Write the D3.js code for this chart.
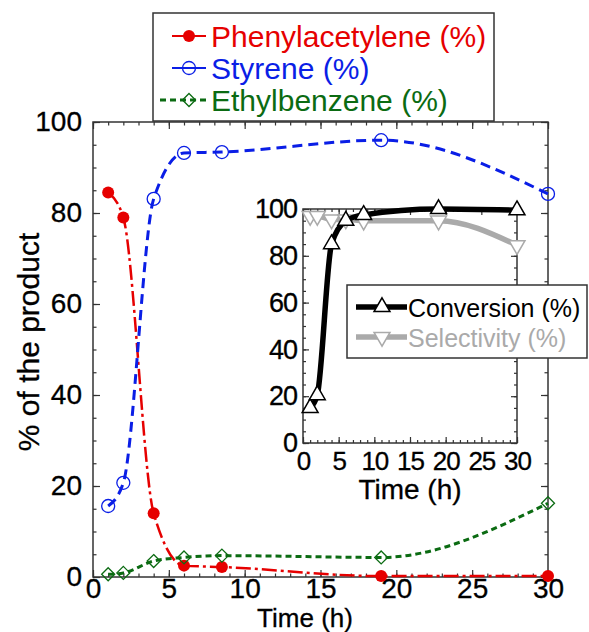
<!DOCTYPE html>
<html>
<head>
<meta charset="utf-8">
<script src="https://cdn.jsdelivr.net/npm/d3@7"></script>
<style>
    body { margin: 0; background: #fff; }
    svg { display: block; font-family: "Liberation Sans", Arial, sans-serif; }
    .heavy { stroke: #000; stroke-width: 0.3; }
</style>
</head>
<body>
<svg id="chart" width="589" height="632"></svg>
<script>
// Reaction time (h) and product distribution (%)
const hours = [1, 2, 4, 6, 8.5, 19, 30];
const phenylacetylene = [84.5, 79, 14, 2.5, 2.2, 0.2, 0.2];
const styrene = [15.6, 20.7, 83.1, 93.2, 93.4, 96, 84.2];
const ethylbenzene = [0.6, 0.9, 3.5, 4.3, 4.7, 4.3, 16.2];

// Inset: conversion and selectivity (%)
const conversion = [15, 20.5, 85, 95, 97.5, 100, 99.5];
const selectivity = [97, 97, 95.5, 95.5, 95, 95, 84.5];

const xTicks = [0, 5, 10, 15, 20, 25, 30];
const yTicks = [0, 20, 40, 60, 80, 100];

const colors = {
    red: '#e60000',
    blue: '#0a1ee6',
    green: '#0b6b12',
    frame: '#333',
    grey: '#aaaaaa',
};

const svg = d3.select('#chart');

const x = d3.scaleLinear().domain([0, 30]).range([93, 548]);
const y = d3.scaleLinear().domain([0, 100]).range([577, 122]);

const ix = d3.scaleLinear().domain([0, 30]).range([303, 517]);
const iy = d3.scaleLinear().domain([0, 100]).range([443, 209]);

// draws a boxed frame with inward ticks on all sides
function drawFrame(sx, sy, opt) {
    const [x0, x1] = sx.range();
    const [y0, y1] = sy.range();
    const g = svg.append('g');

    const minorX = d3.range(0, 30.01, 1);
    const minorY = d3.range(0, 100.01, opt.minorY);

    const sides = [
        { axis: d3.axisBottom(sx), at: `translate(0,${y0})`, minor: minorX },
        { axis: d3.axisTop(sx), at: `translate(0,${y1})`, minor: minorX },
        { axis: d3.axisLeft(sy), at: `translate(${x0},0)`, minor: minorY },
        { axis: d3.axisRight(sy), at: `translate(${x1},0)`, minor: minorY },
    ];

    // minor ticks
    sides.forEach(s => {
        const m = g.append('g').attr('transform', s.at)
            .call(s.axis.tickValues(s.minor).tickSizeInner(-opt.minorLen).tickSizeOuter(0).tickFormat(''));
        m.select('.domain').remove();
        m.selectAll('line').attr('stroke', colors.frame).attr('stroke-width', 1.2);
    });

    const majors = [
        { axis: d3.axisBottom(sx), at: `translate(0,${y0})`, vals: xTicks, pad: opt.padX, labels: true, fs: opt.fontX },
        { axis: d3.axisTop(sx), at: `translate(0,${y1})`, vals: xTicks, labels: false },
        { axis: d3.axisLeft(sy), at: `translate(${x0},0)`, vals: yTicks, pad: opt.padY, labels: true, fs: opt.fontY },
        { axis: d3.axisRight(sy), at: `translate(${x1},0)`, vals: yTicks, labels: false },
    ];

    majors.forEach(s => {
        const a = s.axis.tickValues(s.vals).tickSizeInner(-opt.majorLen).tickSizeOuter(0)
            .tickPadding(s.pad || 0);
        if (!s.labels) a.tickFormat('');
        const m = g.append('g').attr('transform', s.at).call(a);
        m.select('.domain').remove();
        m.selectAll('line').attr('stroke', colors.frame).attr('stroke-width', 1.2);
        m.selectAll('text')
            .attr('class', 'heavy')
            .attr('font-size', s.fs)
            .attr('letter-spacing', opt.spacing || 0)
            .attr('font-family', '"Liberation Sans", Arial, sans-serif')
            .attr('fill', '#000');
    });

    g.append('rect')
        .attr('x', x0).attr('y', y1)
        .attr('width', x1 - x0).attr('height', y0 - y1)
        .attr('fill', 'none')
        .attr('stroke', colors.frame)
        .attr('stroke-width', 1.5);

    return g;
}

drawFrame(x, y, { minorY: 5, minorLen: 3.5, majorLen: 7, padX: 1, padY: 11, fontX: 28, fontY: 28 });

// axis titles
svg.append('text')
    .attr('class', 'heavy')
    .attr('x', 305).attr('y', 627)
    .attr('text-anchor', 'middle')
    .attr('font-size', 26)
    .text('Time (h)');

svg.append('text')
    .attr('class', 'heavy')
    .attr('transform', 'translate(39,342) rotate(-90)')
    .attr('text-anchor', 'middle')
    .attr('font-size', 30)
    .text('% of the product');

// main series
const series = [
    { name: 'Phenylacetylene (%)', values: phenylacetylene, color: colors.red, dash: '15,4,3,4', width: 2.5, marker: 'dot' },
    { name: 'Styrene (%)', values: styrene, color: colors.blue, dash: '10,6', width: 3, marker: 'circle' },
    { name: 'Ethylbenzene (%)', values: ethylbenzene, color: colors.green, dash: '6,4', width: 3, marker: 'diamond' },
];

const line = d3.line()
    .x(d => x(d[0]))
    .y(d => y(d[1]))
    .curve(d3.curveMonotoneX);

const diamond = r => `M0,${-r}L${r},0L0,${r}L${-r},0Z`;

function drawMarker(sel, type, color) {
    if (type === 'dot') {
        sel.append('circle').attr('r', 6).attr('fill', color);
    } else if (type === 'circle') {
        sel.append('circle').attr('r', 6.5).attr('fill', 'none')
            .attr('stroke', color).attr('stroke-width', 1.3);
    } else {
        sel.append('path').attr('d', diamond(6.5)).attr('fill', 'none')
            .attr('stroke', color).attr('stroke-width', 1.3);
    }
}

series.forEach(s => {
    const pts = hours.map((h, i) => [h, s.values[i]]);
    svg.append('path')
        .datum(pts)
        .attr('d', line)
        .attr('fill', 'none')
        .attr('stroke', s.color)
        .attr('stroke-width', s.width)
        .attr('stroke-dasharray', s.dash);

    svg.append('g').selectAll('g')
        .data(pts)
        .enter()
        .append('g')
        .attr('transform', d => `translate(${x(d[0])},${y(d[1])})`)
        .each(function () { drawMarker(d3.select(this), s.marker, s.color); });
});

// main legend
const legend = svg.append('g');
legend.append('rect')
    .attr('x', 153).attr('y', 13)
    .attr('width', 341).attr('height', 108)
    .attr('fill', '#fff')
    .attr('stroke', colors.frame)
    .attr('stroke-width', 1.5);

series.forEach((s, i) => {
    const cy = 36 + i * 32;
    const row = legend.append('g');
    row.append('line')
        .attr('x1', i === 2 ? 160 : 172).attr('x2', 206)
        .attr('y1', cy).attr('y2', cy)
        .attr('stroke', s.color)
        .attr('stroke-width', i === 2 ? 3 : 2)
        .attr('stroke-dasharray', i === 2 ? '6,4' : null);
    drawMarker(row.append('g').attr('transform', `translate(189,${cy})`), s.marker, s.color);
    row.append('text')
        .attr('x', 211).attr('y', cy + 11)
        .attr('font-size', 30)
        .attr('fill', s.color)
        .text(s.name);
});

// inset
svg.append('rect')
    .attr('x', 303).attr('y', 209)
    .attr('width', 214).attr('height', 234)
    .attr('fill', '#fff');

drawFrame(ix, iy, { minorY: 5, minorLen: 3, majorLen: 6, padX: 9, padY: 6, fontX: 26, fontY: 27, spacing: -1 });

svg.append('text')
    .attr('class', 'heavy')
    .attr('x', 410).attr('y', 499)
    .attr('text-anchor', 'middle')
    .attr('font-size', 28)
    .text('Time (h)');

const insetLine = d3.line()
    .x(d => ix(d[0]))
    .y(d => iy(d[1]))
    .curve(d3.curveMonotoneX);

const tri = d3.symbol().type(d3.symbolTriangle).size(110);

const insetSeries = [
    { name: 'Selectivity (%)', values: selectivity, color: colors.grey, rot: 180 },
    { name: 'Conversion (%)', values: conversion, color: '#000', rot: 0 },
];

insetSeries.forEach(s => {
    const pts = hours.map((h, i) => [h, s.values[i]]);
    svg.append('path')
        .datum(pts)
        .attr('d', insetLine)
        .attr('fill', 'none')
        .attr('stroke', s.color)
        .attr('stroke-width', 5.5);

    svg.append('g').selectAll('path')
        .data(pts)
        .enter()
        .append('path')
        .attr('d', tri)
        .attr('transform', d => `translate(${ix(d[0])},${iy(d[1])}) rotate(${s.rot})`)
        .attr('fill', '#fff')
        .attr('stroke', s.color)
        .attr('stroke-width', 1.5);
});

// inset legend
const iLegend = svg.append('g');
iLegend.append('rect')
    .attr('x', 347).attr('y', 285)
    .attr('width', 240).attr('height', 73)
    .attr('fill', '#fff')
    .attr('stroke', colors.frame)
    .attr('stroke-width', 1.5);

insetSeries.slice().reverse().forEach((s, i) => {
    const cy = 307 + i * 30;
    iLegend.append('line')
        .attr('x1', 356).attr('x2', 407)
        .attr('y1', cy).attr('y2', cy)
        .attr('stroke', s.color)
        .attr('stroke-width', 5.5);
    iLegend.append('path')
        .attr('d', tri)
        .attr('transform', `translate(382,${cy}) rotate(${s.rot})`)
        .attr('fill', '#fff')
        .attr('stroke', s.color)
        .attr('stroke-width', 1.5);
    iLegend.append('text')
        .attr('x', 408).attr('y', cy + 10)
        .attr('font-size', 25)
        .attr('fill', s.color)
        .text(s.name);
});
</script>
</body>
</html>
